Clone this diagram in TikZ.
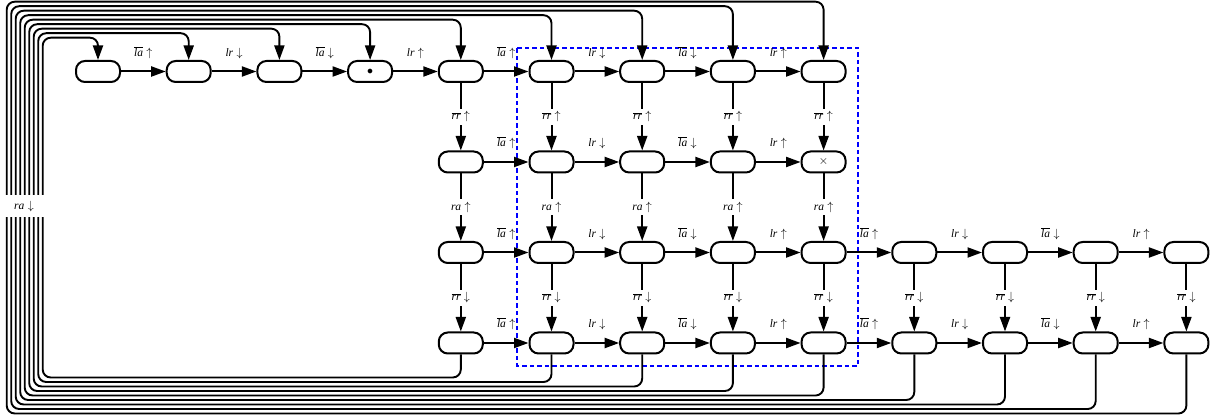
\documentclass[tikz,border=0pt]{standalone}
\usepackage{fontspec}
\setmainfont{Liberation Serif}
\usetikzlibrary{arrows.meta}
\newcommand\labLAup{$\overline{\textit{la}}\uparrow$}
\newcommand\labLAdn{$\overline{\textit{la}}\downarrow$}
\newcommand\labLRup{$\textit{lr}\uparrow$}
\newcommand\labLRdn{$\textit{lr}\downarrow$}
\newcommand\labRRup{$\overline{\textit{rr}}\uparrow$}
\newcommand\labRRdn{$\overline{\textit{rr}}\downarrow$}
\newcommand\labRAup{$\textit{ra}\uparrow$}
\newcommand\labRAdn{$\textit{ra}\downarrow$}
\begin{document}
\begin{tikzpicture}[x=1pt,y=-1pt,
  st/.style={draw, line width=2pt, rectangle, rounded corners=9pt, minimum width=44pt, minimum height=21pt, inner sep=0pt, font=\fontsize{11.5}{13}\selectfont},
  edge/.style={line width=2pt, -{Triangle[length=14.5pt,width=10pt]}},
  backline/.style={line width=1.9pt, rounded corners=8pt, -{Triangle[length=14.5pt,width=10pt]}},
  hl/.style={midway, anchor=base, yshift=15pt, inner sep=0pt, font=\fontsize{11.5}{13}\selectfont},
  vl/.style={midway, fill=white, inner sep=2.5pt, font=\fontsize{11.5}{13}\selectfont},
  box/.style={draw=blue, dash pattern=on 4.5pt off 3pt, line width=1.8pt}
]
\useasboundingbox (0,0) rectangle (1218,419);
\draw[box] (517.3,48.3) rectangle (858.3,365.7);
% nodes
\foreach \c in {0,...,8}
  \node[st] (n0-\c) at ({98+90.7*\c},71.5) {\ifnum\c=3 $\bullet$\fi};
\foreach \c in {4,...,8}
  \node[st] (n1-\c) at ({98+90.7*\c},162) {\ifnum\c=8 $\times$\fi};
\foreach \c in {4,...,12}
  \node[st] (n2-\c) at ({98+90.7*\c},252.5) {};
\foreach \c in {4,...,12}
  \node[st] (n3-\c) at ({98+90.7*\c},343) {};
% horizontal edges
\foreach \r/\a/\b in {0/0/7, 1/4/7, 2/4/11, 3/4/11} {
  \foreach \c in {\a,...,\b} {
    \pgfmathtruncatemacro\d{\c+1}
    \pgfmathtruncatemacro\m{mod(\c,4)}
    \draw[edge] (n\r-\c) -- (n\r-\d)
      node[hl] {\ifcase\m \labLAup\or\labLRdn\or\labLAdn\or\labLRup\fi};
  }
}
% vertical edges
\foreach \c in {4,...,8} {
  \draw[edge] (n0-\c) -- (n1-\c) node[vl] {\labRRup};
  \draw[edge] (n1-\c) -- (n2-\c) node[vl] {\labRAup};
}
\foreach \c in {4,...,12}
  \draw[edge] (n2-\c) -- (n3-\c) node[vl] {\labRRdn};
% back loops
\foreach \i in {0,...,8} {
  \pgfmathtruncatemacro\s{4+\i}
  \pgfmathsetmacro\yb{377.5+4.5*\i}
  \pgfmathsetmacro\xl{42.7-4.5*\i}
  \pgfmathsetmacro\yt{37.7-4.5*\i}
  \draw[backline] (n3-\s.south) -- (n3-\s.south |- 0,\yb) -- (\xl,\yb) -- (\xl,\yt) -- (n0-\i.north |- 0,\yt) -- (n0-\i.north);
}
\node[fill=white, minimum width=43pt, minimum height=22pt, inner sep=0pt, font=\fontsize{11.5}{13}\selectfont] (rabundle) at (24,206.5) {\labRAdn};
\end{tikzpicture}
\end{document}
